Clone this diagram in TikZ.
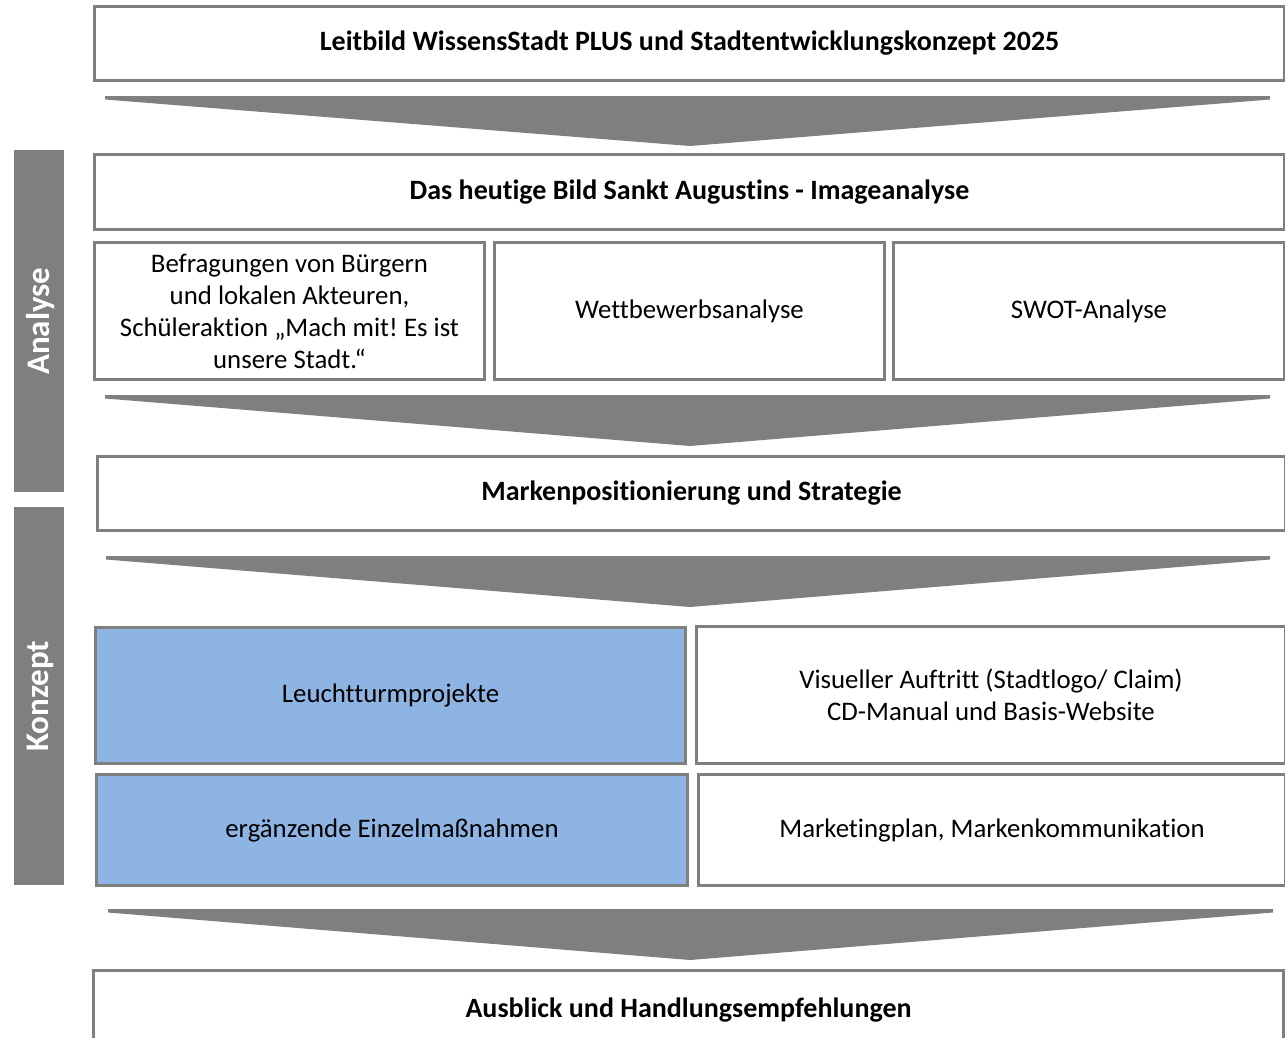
\documentclass[tikz,border=0pt]{standalone}
\usepackage{fontspec}
\setmainfont{Carlito}[Ligatures=NoCommon]
\definecolor{framegray}{HTML}{7F7F7F}
\definecolor{boxblue}{HTML}{8EB4E3}
\begin{document}
\frenchspacing
\begin{tikzpicture}[x=1pt,y=-1pt,
  box/.style={draw=framegray,line width=3pt,fill=white,anchor=north west,inner sep=0pt,align=center,font=\fontsize{26.8}{32}\selectfont},
  bluebox/.style={box,fill=boxblue},
  boldbox/.style={box,font=\fontsize{28}{32}\selectfont\bfseries},
  sidebar/.style={fill=framegray,draw=none,anchor=north west,inner sep=0pt},
  sidelabel/.style={text=white,font=\fontsize{33}{36}\selectfont\bfseries,rotate=90},
  funnel/.style={fill=framegray,draw=none}]
\useasboundingbox (0,0) rectangle (1285,1037);
\clip (0,0) rectangle (1285,1037);
% side bars
\node[sidebar,minimum width=50pt,minimum height=342pt] (barA) at (14,150) {};
\node[sidebar,minimum width=50pt,minimum height=378pt] (barK) at (14,507) {};
\node[sidelabel] (labA) at ([xshift=1.5pt]barA.center) {Analyse};
\node[sidelabel] (labK) at ([xshift=1.5pt]barK.center) {Konzept};
% boxes
\node[boldbox,minimum width=1190pt,minimum height=74pt] (b1) at (93,5) {Leitbild WissensStadt PLUS und Stadtentwicklungskonzept 2025};
\node[boldbox,minimum width=1190pt,minimum height=75pt] (b2) at (93,153) {Das heutige Bild Sankt Augustins - Imageanalyse};
\node[box,minimum width=390pt,minimum height=137pt] (b3a) at (93,241) {Befragungen von Bürgern\\und lokalen Akteuren,\\Schüleraktion „Mach mit! Es ist\\unsere Stadt.“};
\node[box,minimum width=390pt,minimum height=137pt] (b3b) at (493,241) {Wettbewerbsanalyse};
\node[box,minimum width=391pt,minimum height=137pt] (b3c) at (892,241) {SWOT-Analyse};
\node[boldbox,minimum width=1188pt,minimum height=74pt] (b4) at (96,455) {Markenpositionierung und Strategie};
\node[bluebox,minimum width=590pt,minimum height=136pt] (b5a) at (94,626) {Leuchtturmprojekte};
\node[box,minimum width=589pt,minimum height=137pt] (b5b) at (695,625) {Visueller Auftritt (Stadtlogo/ Claim)\\CD-Manual und Basis-Website};
\node[bluebox,minimum width=591pt,minimum height=111pt] (b6a) at (95,773) {ergänzende Einzelmaßnahmen};
\node[box,minimum width=587pt,minimum height=111pt] (b6b) at (697,773) {Marketingplan, Markenkommunikation};
\node[boldbox,minimum width=1190pt,minimum height=80pt] (b7) at (92,969) {Ausblick und Handlungsempfehlungen};
% funnels
\fill[funnel] (105,96) -- (1270,96) -- (1270,99.5) -- (690,146) -- (105,99.5) -- cycle;
\fill[funnel] (105,395) -- (1270,395) -- (1270,398.5) -- (690,446) -- (105,398.5) -- cycle;
\fill[funnel] (106,556) -- (1270,556) -- (1270,559.5) -- (690,607) -- (106,559.5) -- cycle;
\fill[funnel] (108,909) -- (1273,909) -- (1273,912.5) -- (690,960) -- (108,912.5) -- cycle;
\end{tikzpicture}
\end{document}
